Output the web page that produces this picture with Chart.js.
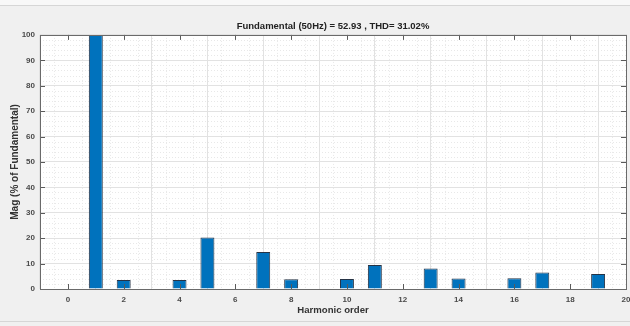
<!DOCTYPE html>
<html>
<head>
<meta charset="utf-8">
<script src="https://cdn.jsdelivr.net/npm/chart.js@4.4.1/dist/chart.umd.min.js"></script>
<style>
html, body { margin: 0; padding: 0; background: #f0f0f0; }
#wrap { width: 630px; height: 326px; }
</style>
</head>
<body>
<div id="wrap"><canvas id="fftChart" width="630" height="326"></canvas></div>
<script>
// harmonic spectrum (% of fundamental)
const harmonicOrder = [0, 1, 2, 3, 4, 5, 6, 7, 8, 9, 10, 11, 12, 13, 14, 15, 16, 17, 18, 19, 20];
const magnitude = [0, 100, 3.5, 0, 3.5, 20.3, 0, 14.6, 3.8, 0, 3.9, 9.4, 0, 8.1, 4.1, 0, 4.2, 6.5, 0, 5.9, 0];
const xTicks = [0, 2, 4, 6, 8, 10, 12, 14, 16, 18, 20];
const yTicks = [0, 10, 20, 30, 40, 50, 60, 70, 80, 90, 100];
const chartTitle = "Fundamental (50Hz) = 52.93 , THD= 31.02%";
const xTitle = "Harmonic order";
const yTitle = "Mag (% of Fundamental)";

const sans = "'Liberation Sans', Arial, Helvetica, sans-serif";

// matlab look: gray figure, white axes, dotted minor grid, box with inner ticks
const matlabAxes = {
    id: "matlabAxes",
    beforeDraw(chart) {
        const ctx = chart.ctx, a = chart.chartArea;
        const xs = chart.scales.x, ys = chart.scales.y;
        ctx.save();
        ctx.fillStyle = "#f0f0f0";
        ctx.fillRect(0, 0, chart.width, chart.height);
        ctx.fillStyle = "#f8f8f8";
        ctx.fillRect(0, 0, chart.width, 5);
        ctx.fillStyle = "#d6d6d6";
        ctx.fillRect(0, 5, chart.width, 1);
        ctx.fillRect(0, 321, chart.width, 1);
        ctx.fillStyle = "#ffffff";
        ctx.fillRect(a.left, a.top, a.right - a.left, a.bottom - a.top);

        ctx.strokeStyle = "#e8e8e8";
        ctx.lineWidth = 1;
        ctx.setLineDash([1, 2]);
        ctx.beginPath();
        for (let v = xs.min + 0.5; v < xs.max; v += 0.5) {
            if (v % 2 === 0) continue;
            const px = Math.round(xs.getPixelForValue(v)) + 0.5;
            ctx.moveTo(px, a.top);
            ctx.lineTo(px, a.bottom);
        }
        for (let v = ys.min + 2; v < ys.max; v += 2) {
            if (v % 10 === 0) continue;
            const py = Math.round(ys.getPixelForValue(v)) + 0.5;
            ctx.moveTo(a.left, py);
            ctx.lineTo(a.right, py);
        }
        ctx.stroke();
        ctx.restore();
    },
    afterDatasetsDraw(chart) {
        const ctx = chart.ctx, a = chart.chartArea;
        const xs = chart.scales.x, ys = chart.scales.y;
        const tl = 5;
        ctx.save();
        ctx.strokeStyle = "#5a5a5a";
        ctx.lineWidth = 1;
        ctx.beginPath();
        xTicks.forEach(v => {
            const px = Math.round(xs.getPixelForValue(v)) + 0.5;
            ctx.moveTo(px, a.bottom);
            ctx.lineTo(px, a.bottom - tl);
            ctx.moveTo(px, a.top);
            ctx.lineTo(px, a.top + tl);
        });
        yTicks.forEach(v => {
            const py = Math.round(ys.getPixelForValue(v)) + 0.5;
            ctx.moveTo(a.left, py);
            ctx.lineTo(a.left + tl, py);
            ctx.moveTo(a.right, py);
            ctx.lineTo(a.right - tl, py);
        });
        ctx.stroke();
        ctx.strokeStyle = "#6a6a6a";
        ctx.strokeRect(Math.round(a.left) + 0.5, Math.round(a.top) + 0.5,
            Math.round(a.right - a.left), Math.round(a.bottom - a.top));
        ctx.restore();
    }
};

new Chart("fftChart", {
    type: "bar",
    data: {
        datasets: [{
            data: harmonicOrder.map((h, i) => ({ x: h, y: magnitude[i] })),
            backgroundColor: "#0072bd",
            borderColor: "rgba(15,30,50,0.9)",
            borderWidth: 1,
            borderSkipped: "start",
            barPercentage: 0.5,
            categoryPercentage: 1
        }]
    },
    options: {
        responsive: false,
        animation: false,
        layout: { padding: { left: 0, right: 4, top: 0, bottom: 0 } },
        plugins: {
            legend: { display: false },
            tooltip: { enabled: false },
            title: {
                display: true,
                fullSize: false,
                text: chartTitle,
                color: "#222",
                font: { family: sans, size: 9.5, weight: "bold" },
                padding: { top: 21, bottom: 2.5 }
            }
        },
        scales: {
            x: {
                type: "linear",
                min: -1,
                max: 20,
                offset: false,
                afterBuildTicks: axis => { axis.ticks = xTicks.map(v => ({ value: v })); },
                afterFit: axis => { axis.height = 37; axis.paddingRight = 0; axis.paddingLeft = 0; },
                grid: { color: "#e2e2e2", drawTicks: false },
                border: { display: false },
                ticks: {
                    color: "#4a4a4a",
                    padding: 6,
                    maxRotation: 0,
                    autoSkip: false,
                    font: { family: sans, size: 8, weight: "bold" }
                },
                title: {
                    display: true,
                    text: xTitle,
                    color: "#333",
                    font: { family: sans, size: 9.6, weight: "bold" },
                    padding: { top: 0, bottom: 10 }
                }
            },
            y: {
                min: 0,
                max: 100,
                afterBuildTicks: axis => { axis.ticks = yTicks.map(v => ({ value: v })); },
                afterFit: axis => { axis.width = 40; },
                grid: { color: "#e2e2e2", drawTicks: false },
                border: { display: false },
                ticks: {
                    color: "#4a4a4a",
                    padding: 5,
                    font: { family: sans, size: 8, weight: "bold" }
                },
                title: {
                    display: true,
                    text: yTitle,
                    color: "#333",
                    font: { family: sans, size: 10, weight: "bold" },
                    padding: { top: 9, bottom: 0 }
                }
            }
        }
    },
    plugins: [matlabAxes]
});
</script>
</body>
</html>
